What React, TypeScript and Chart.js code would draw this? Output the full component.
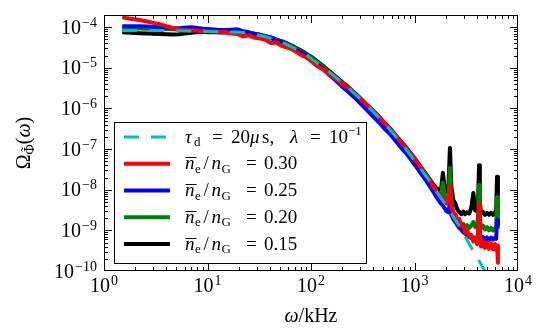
import React, { useEffect, useRef } from 'react';
import { Chart, registerables } from 'chart.js';

Chart.register(...registerables);

// ---- data ----
const OMEGA = [
  1.5, 1.8, 2.2, 2.6, 3, 3.5, 4, 4.6, 5.3, 6, 7, 8, 9, 10, 11.5, 13, 15, 17, 19.5, 22,
  25, 28, 32, 36, 41, 46, 52, 58, 65, 73, 82, 92, 103, 115, 130, 145, 163, 183, 205, 230,
  258, 290, 325, 365, 410, 460, 515, 580, 650, 730, 820, 920, 1030, 1150, 1290, 1450, 1620, 1800,
  1880, 1950, 2040, 2130, 2200, 2270, 2370, 2480, 2590, 2710, 2830, 2960, 3090, 3230, 3380, 3530,
  3700, 3860, 4030, 4120, 4200, 4280, 4400, 4600, 4800, 5020, 5250, 5490, 5740, 6000, 6150, 6270, 6400,
];

const Y_030 = [
  1.75e-4, 1.62e-4, 1.5e-4, 1.38e-4, 1.28e-4, 1.18e-4, 1.06e-4, 9.6e-5, 8.9e-5, 8.6e-5, 8.3e-5, 8.2e-5, 8.0e-5, 7.8e-5, 7.9e-5, 7.6e-5, 7.5e-5, 7.0e-5, 6.8e-5, 5.9e-5,
  6.3e-5, 5.6e-5, 5.3e-5, 4.9e-5, 4.1e-5, 4.2e-5, 3.5e-5, 3.2e-5, 2.9e-5, 2.4e-5, 2.0e-5, 1.75e-5, 1.4e-5, 1.1e-5, 9.3e-6, 7.4e-6, 6.0e-6, 4.8e-6, 3.9e-6, 3.2e-6,
  2.45e-6, 1.9e-6, 1.42e-6, 1.08e-6, 8.0e-7, 6.0e-7, 4.3e-7, 3.2e-7, 2.25e-7, 1.55e-7, 1.12e-7, 7.7e-8, 5.2e-8, 3.5e-8, 2.35e-8, 1.5e-8, 9.5e-9, 6.8e-9,
  6.2e-9, 5.4e-9, 4.6e-9, 4.9e-9, 1.2e-8, 3.7e-9, 2.7e-9, 2.5e-9, 1.8e-9, 1.9e-9, 1.25e-9, 1.35e-9, 8.8e-10, 1.0e-9, 6.8e-10, 7.8e-10,
  5.3e-10, 6.5e-10, 4.6e-10, 9.0e-10, 4.3e-9, 8.0e-10, 4.0e-10, 5.4e-10, 3.7e-10, 5.0e-10, 3.5e-10, 4.8e-10, 3.4e-10, 4.6e-10, 3.3e-10, 4.2e-10, 1.6e-10,
];

const Y_025 = [
  1.05e-4, 1.06e-4, 1.05e-4, 1.04e-4, 1.03e-4, 1.01e-4, 9.9e-5, 9.6e-5, 9.5e-5, 9.7e-5, 1.0e-4, 9.6e-5, 9.2e-5, 9.0e-5, 8.8e-5, 8.6e-5, 8.5e-5, 8.7e-5, 8.9e-5, 8.0e-5,
  7.6e-5, 6.9e-5, 6.5e-5, 5.9e-5, 5.4e-5, 4.7e-5, 4.3e-5, 3.7e-5, 3.3e-5, 2.75e-5, 2.35e-5, 1.9e-5, 1.55e-5, 1.22e-5, 9.5e-6, 7.3e-6, 5.6e-6, 4.3e-6, 3.3e-6, 2.55e-6,
  1.95e-6, 1.45e-6, 1.08e-6, 8.0e-7, 5.9e-7, 4.4e-7, 3.15e-7, 2.35e-7, 1.65e-7, 1.15e-7, 8.2e-8, 5.6e-8, 3.8e-8, 2.55e-8, 1.7e-8, 1.08e-8, 6.8e-9, 4.6e-9,
  4.1e-9, 3.5e-9, 3.0e-9, 2.8e-9, 5.0e-9, 2.4e-9, 1.9e-9, 1.6e-9, 1.35e-9, 1.15e-9, 1.05e-9, 9.0e-10, 8.3e-10, 7.4e-10, 7.2e-10, 6.4e-10,
  6.8e-10, 6.0e-10, 6.5e-10, 9.0e-10, 2.1e-9, 8.5e-10, 6.0e-10, 6.8e-10, 5.9e-10, 6.7e-10, 5.8e-10, 6.6e-10, 5.9e-10, 6.6e-10, 6.2e-10, 1.8e-9, 1.4e-9,
];

const Y_020 = [
  9.2e-5, 9.3e-5, 9.3e-5, 9.2e-5, 9.2e-5, 9.1e-5, 9.0e-5, 8.9e-5, 8.8e-5, 8.8e-5, 8.7e-5, 8.6e-5, 8.5e-5, 8.3e-5, 8.2e-5, 8.0e-5, 7.9e-5, 7.8e-5, 7.7e-5, 7.6e-5,
  7.3e-5, 7.0e-5, 6.5e-5, 6.0e-5, 5.5e-5, 4.9e-5, 4.4e-5, 3.9e-5, 3.4e-5, 2.9e-5, 2.45e-5, 2.05e-5, 1.7e-5, 1.36e-5, 1.08e-5, 8.4e-6, 6.6e-6, 5.15e-6, 4.0e-6, 3.15e-6,
  2.4e-6, 1.85e-6, 1.38e-6, 1.03e-6, 7.7e-7, 5.75e-7, 4.1e-7, 3.05e-7, 2.15e-7, 1.5e-7, 1.08e-7, 7.4e-8, 5.0e-8, 3.4e-8, 2.25e-8, 1.45e-8, 9.2e-9, 7.0e-9,
  1.5e-8, 6.8e-9, 5.6e-9, 7.0e-9, 3.5e-8, 5.0e-9, 2.9e-9, 2.3e-9, 1.8e-9, 1.55e-9, 1.35e-9, 1.45e-9, 1.2e-9, 1.35e-9, 1.15e-9, 1.3e-9,
  1.6e-9, 1.2e-9, 1.3e-9, 2.5e-9, 1.3e-8, 2.0e-9, 1.15e-9, 1.3e-9, 1.05e-9, 1.2e-9, 1.0e-9, 1.15e-9, 1.0e-9, 1.15e-9, 1.1e-9, 6.6e-9, 1.2e-9,
];

const Y_015 = [
  7.5e-5, 7.3e-5, 7.1e-5, 7.0e-5, 6.9e-5, 6.8e-5, 6.7e-5, 6.6e-5, 6.7e-5, 7.0e-5, 7.3e-5, 7.6e-5, 7.7e-5, 7.5e-5, 7.6e-5, 7.4e-5, 7.5e-5, 7.3e-5, 7.3e-5, 7.1e-5,
  7.0e-5, 6.9e-5, 6.5e-5, 6.1e-5, 5.6e-5, 5.0e-5, 4.55e-5, 4.05e-5, 3.55e-5, 3.05e-5, 2.6e-5, 2.15e-5, 1.8e-5, 1.44e-5, 1.14e-5, 8.9e-6, 7.0e-6, 5.45e-6, 4.25e-6, 3.35e-6,
  2.55e-6, 1.95e-6, 1.46e-6, 1.09e-6, 8.2e-7, 6.1e-7, 4.4e-7, 3.25e-7, 2.3e-7, 1.6e-7, 1.15e-7, 7.9e-8, 5.4e-8, 3.65e-8, 2.45e-8, 1.6e-8, 1.1e-8, 9.5e-9,
  2.6e-8, 1.2e-8, 9.0e-9, 1.3e-8, 1.07e-7, 1.2e-8, 5.6e-9, 4.6e-9, 3.3e-9, 2.8e-9, 2.5e-9, 2.9e-9, 2.5e-9, 2.8e-9, 2.6e-9, 3.5e-9,
  8.3e-9, 3.1e-9, 2.9e-9, 6.0e-9, 4.0e-8, 5.0e-9, 2.6e-9, 2.8e-9, 2.4e-9, 2.7e-9, 2.4e-9, 2.7e-9, 2.4e-9, 2.8e-9, 3.0e-9, 2.1e-8, 3.0e-9,
];

const MODEL_OMEGA = [
  1.5, 2, 3, 5, 7, 10, 15, 20, 26, 35, 45, 54, 65, 75, 90, 114, 135, 160, 190, 223, 260, 300,
  350, 397, 470, 580, 700, 847, 1000, 1150, 1321, 1500, 1650, 1800, 2000, 2300, 2690, 3000,
  3440, 4000, 4790, 5500, 6300,
];
const MODEL_Y = [
  8.2e-5, 8.3e-5, 8.3e-5, 8.2e-5, 8.05e-5, 7.9e-5, 7.7e-5, 7.5e-5, 7.1e-5, 6.0e-5, 4.9e-5, 4.1e-5,
  3.3e-5, 2.75e-5, 2.1e-5, 1.33e-5, 9.8e-6, 7.0e-6, 4.8e-6, 3.45e-6, 2.42e-6, 1.72e-6, 1.17e-6,
  8.4e-7, 5.4e-7, 3.0e-7, 1.7e-7, 9.2e-8, 5.2e-8, 3.2e-8, 2.0e-8, 1.25e-8, 8.5e-9, 6.3e-9, 4.3e-9,
  2.45e-9, 1.3e-9, 8.0e-10, 4.3e-10, 2.2e-10, 1.0e-10, 5.5e-11, 3.0e-11,
];

const SERIES_Y = [Y_030, Y_025, Y_020, Y_015];
const SERIES_LABELS = ['0.30', '0.25', '0.20', '0.15'];
const SERIES_COLORS = ['#ff0000', '#0000ff', '#008000', '#000000'];
const MODEL_COLOR = '#00bfbf';

const X_DECADES = [0, 1, 2, 3, 4];
const Y_DECADES = [-10, -9, -8, -7, -6, -5, -4];
const X_MIN = 1;
const X_MAX = 1e4;
const Y_MIN = 1e-10;
const Y_MAX = 2e-4;

const FAMILY = '"Liberation Serif", "DejaVu Serif", serif';

// x: explicit offset (px) from the start of the text run; if absent, follows the previous part
type Part = { t: string; size: number; italic?: boolean; dy?: number; x?: number; bar?: boolean; tilde?: boolean };

function fontOf(p: { size: number; italic?: boolean }) {
  return `${p.italic ? 'italic ' : ''}${p.size}px ${FAMILY}`;
}

function richWidth(ctx: CanvasRenderingContext2D, parts: Part[]) {
  let w = 0;
  for (const p of parts) {
    ctx.font = fontOf(p);
    w = (p.x !== undefined ? p.x : w) + ctx.measureText(p.t).width;
  }
  return w;
}

function drawRich(ctx: CanvasRenderingContext2D, parts: Part[], x: number, y: number) {
  let cx = x;
  for (const p of parts) {
    if (p.x !== undefined) cx = x + p.x;
    ctx.font = fontOf(p);
    const w = ctx.measureText(p.t).width;
    const by = y + (p.dy || 0);
    ctx.fillText(p.t, cx, by);
    if (p.bar) {
      const ly = Math.round(by - p.size * 0.62) + 0.5;
      ctx.beginPath();
      ctx.moveTo(cx + 0.5, ly);
      ctx.lineTo(cx + w + 2, ly);
      ctx.lineWidth = 1;
      ctx.stroke();
    }
    if (p.tilde) {
      ctx.font = fontOf({ size: p.size });
      const tw = ctx.measureText('\u02DC').width;
      ctx.fillText('\u02DC', cx + w / 2 - tw / 2, by - 3.5);
    }
    cx += w;
  }
}

const decorPlugin = {
  id: 'decor',
  afterDatasetsDraw(chart: any) {
    const ctx = chart.ctx as CanvasRenderingContext2D;
    const { left, right, top, bottom } = chart.chartArea;
    const xs = chart.scales.x;
    const ys = chart.scales.y;
    ctx.save();
    ctx.strokeStyle = '#000';
    ctx.fillStyle = '#000';
    ctx.lineWidth = 1;
    const seg = (x1: number, y1: number, x2: number, y2: number) => {
      ctx.beginPath();
      ctx.moveTo(x1, y1);
      ctx.lineTo(x2, y2);
      ctx.stroke();
    };
    const MAJ = 8;
    const MIN = 4;
    // x ticks (bottom and top, inward)
    for (const d of X_DECADES) {
      const base = Math.pow(10, d);
      const p = Math.round(xs.getPixelForValue(base)) + 0.5;
      if (base > X_MIN && base < X_MAX) {
        seg(p, bottom, p, bottom - MAJ);
        seg(p, top, p, top + MAJ);
      }
      if (base < X_MAX) {
        for (let k = 2; k <= 9; k++) {
          const q = Math.round(xs.getPixelForValue(k * base)) + 0.5;
          seg(q, bottom, q, bottom - MIN);
          seg(q, top, q, top + MIN);
        }
      }
    }
    // y ticks (left and right, inward)
    for (const d of Y_DECADES) {
      const base = Math.pow(10, d);
      const p = Math.round(ys.getPixelForValue(base)) + 0.5;
      if (base > Y_MIN && base < Y_MAX) {
        seg(left, p, left + MAJ, p);
        seg(right, p, right - MAJ, p);
      }
      for (let k = 2; k <= 9; k++) {
        const v = k * base;
        if (v >= Y_MAX * 0.999) continue;
        const q = Math.round(ys.getPixelForValue(v)) + 0.5;
        seg(left, q, left + MIN, q);
        seg(right, q, right - MIN, q);
      }
    }
    // frame
    ctx.strokeRect(left + 0.5, top + 0.5, right - left - 1, bottom - top - 1);

    // tick labels
    const BIG = 20;
    const SMALL = 14;
    ctx.textAlign = 'left';
    ctx.textBaseline = 'alphabetic';
    for (const d of Y_DECADES) {
      const py = ys.getPixelForValue(Math.pow(10, d));
      const exp = '\u2212' + Math.abs(d);
      ctx.font = fontOf({ size: BIG });
      const w1 = ctx.measureText('10').width;
      ctx.font = fontOf({ size: SMALL });
      const w2 = ctx.measureText(exp).width;
      const x0 = left - 7 - w1 - 1 - w2;
      ctx.font = fontOf({ size: BIG });
      ctx.fillText('10', x0, py + 6.5);
      ctx.font = fontOf({ size: SMALL });
      ctx.fillText(exp, x0 + w1 + 1, py - 0.5);
    }
    for (const d of X_DECADES) {
      const px = xs.getPixelForValue(Math.pow(10, d));
      const exp = String(d);
      ctx.font = fontOf({ size: BIG });
      const w1 = ctx.measureText('10').width;
      ctx.font = fontOf({ size: SMALL });
      const w2 = ctx.measureText(exp).width;
      const x0 = px - (w1 + 1 + w2) / 2;
      ctx.font = fontOf({ size: BIG });
      ctx.fillText('10', x0, bottom + 21);
      ctx.font = fontOf({ size: SMALL });
      ctx.fillText(exp, x0 + w1 + 1, bottom + 14);
    }

    // x axis title
    const xTitle: Part[] = [
      { t: '\u03C9', size: BIG, italic: true },
      { t: '/kHz', size: BIG },
    ];
    const xw = richWidth(ctx, xTitle);
    drawRich(ctx, xTitle, (left + right) / 2 - xw / 2, bottom + 51);

    // y axis title (rotated)
    const yTitle: Part[] = [
      { t: '\u03A9', size: BIG },
      { t: '\u03A6', size: SMALL, dy: 4, tilde: true },
      { t: '(', size: BIG },
      { t: '\u03C9', size: BIG, italic: true },
      { t: ')', size: BIG },
    ];
    const yw = richWidth(ctx, yTitle);
    ctx.save();
    ctx.translate(30, (top + bottom) / 2);
    ctx.rotate(-Math.PI / 2);
    drawRich(ctx, yTitle, -yw / 2, 0);
    ctx.restore();

    // legend
    const LX = left + 10;
    const LY = top + 107;
    const LW = 252;
    const LH = 141;
    ctx.fillStyle = '#ffffff';
    ctx.fillRect(LX, LY, LW, LH);
    ctx.strokeStyle = '#000';
    ctx.lineWidth = 1;
    ctx.strokeRect(LX + 0.5, LY + 0.5, LW, LH);
    ctx.fillStyle = '#000';
    const rowY = (i: number) => LY + 15 + i * 26.75;
    const lineX0 = LX + 10;
    const lineX1 = LX + 56;
    const textX = LX + 71;
    // model row
    ctx.save();
    ctx.strokeStyle = MODEL_COLOR;
    ctx.lineWidth = 3;
    ctx.setLineDash([15, 12]);
    seg(lineX0, rowY(0), lineX1, rowY(0));
    ctx.restore();
    const LB = 19;
    const LS = 13;
    drawRich(ctx, [
      { t: '\u03C4', size: LB, italic: true, x: 0 },
      { t: 'd', size: LS, dy: 3.5, x: 9 },
      { t: '=', size: LB, x: 27 },
      { t: '20', size: LB, x: 46 },
      { t: '\u03BC', size: LB, italic: true, x: 65 },
      { t: 's,', size: LB, x: 77 },
      { t: '\u03BB', size: LB, italic: true, x: 105 },
      { t: '=', size: LB, x: 125 },
      { t: '10', size: LB, x: 144 },
      { t: '\u22121', size: LS, dy: -7.5, x: 163 },
    ], textX, rowY(0) + 5.5);
    SERIES_LABELS.forEach((lab, i) => {
      const y = rowY(i + 1);
      ctx.save();
      ctx.strokeStyle = SERIES_COLORS[i];
      ctx.lineWidth = 4;
      seg(lineX0, y, lineX1, y);
      ctx.restore();
      ctx.fillStyle = '#000';
      ctx.strokeStyle = '#000';
      drawRich(ctx, [
        { t: 'n', size: LB, italic: true, bar: true, x: 0 },
        { t: 'e', size: LS, dy: 3.5, x: 10 },
        { t: '/', size: LB, x: 18.5 },
        { t: 'n', size: LB, italic: true, x: 26.5 },
        { t: 'G', size: LS, dy: 3.5, x: 36.5 },
        { t: '=', size: LB, x: 61 },
        { t: lab, size: LB, x: 79 },
      ], textX, y + 5.5);
    });
    ctx.restore();
  },
};

export default function App() {
  const ref = useRef<HTMLCanvasElement | null>(null);
  useEffect(() => {
    document.body.style.margin = '0';
    const canvas = ref.current;
    if (!canvas) return;
    const datasets: any[] = [
      {
        label: 'model',
        data: MODEL_OMEGA.map((x, i) => ({ x, y: MODEL_Y[i] })),
        borderColor: MODEL_COLOR,
        borderWidth: 3,
        borderDash: [15, 12],
        order: 0,
      },
      ...SERIES_Y.map((vals, j) => ({
        label: SERIES_LABELS[j],
        data: OMEGA.map((x, i) => ({ x, y: vals[i] })),
        borderColor: SERIES_COLORS[j],
        borderWidth: 4,
        order: j + 1,
      })),
    ];
    const chart = new Chart(canvas, {
      type: 'line',
      data: { datasets },
      options: {
        animation: false,
        responsive: false,
        devicePixelRatio: 1,
        layout: { padding: { left: 0, right: 26, top: 15, bottom: 0 } },
        elements: {
          point: { radius: 0, hoverRadius: 0 },
          line: { tension: 0, borderJoinStyle: 'round', borderCapStyle: 'butt', fill: false },
        },
        datasets: { line: { clip: 0 } as any },
        plugins: { legend: { display: false }, tooltip: { enabled: false } },
        events: [],
        scales: {
          x: {
            type: 'logarithmic',
            min: X_MIN,
            max: X_MAX,
            grid: { display: false },
            border: { display: false },
            ticks: { display: false },
            afterFit: (s: any) => { s.height = 65; },
          },
          y: {
            type: 'logarithmic',
            min: Y_MIN,
            max: Y_MAX,
            grid: { display: false },
            border: { display: false },
            ticks: { display: false },
            afterFit: (s: any) => { s.width = 104; },
          },
        },
      } as any,
      plugins: [decorPlugin],
    });
    return () => chart.destroy();
  }, []);
  return (
    <div style={{ width: 544, height: 336, background: '#fff' }}>
      <canvas ref={ref} width={544} height={336} style={{ display: 'block' }} />
    </div>
  );
}
